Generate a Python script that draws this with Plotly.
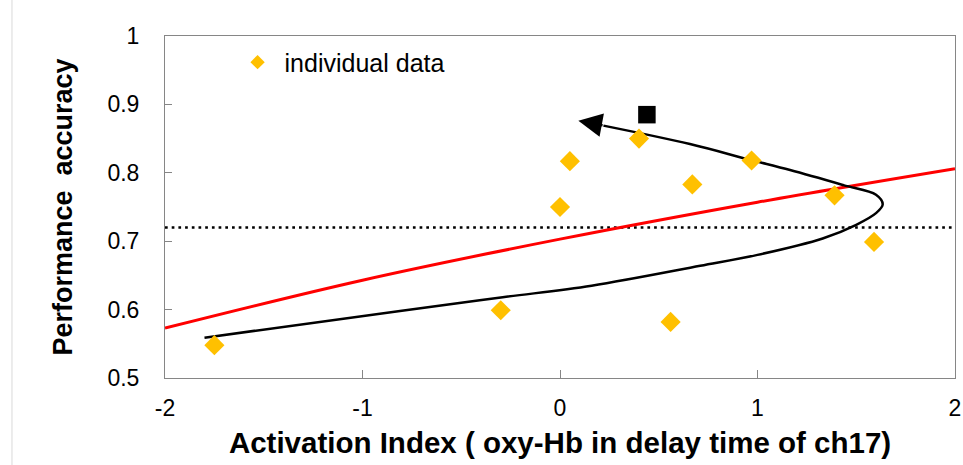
import plotly.graph_objects as go

# Individual subjects: activation index vs. performance accuracy
activation = [-1.75, -0.30, 0.00, 0.05, 0.40, 0.56, 0.67, 0.97, 1.39, 1.59]
accuracy = [0.548, 0.599, 0.750, 0.817, 0.850, 0.582, 0.783, 0.818, 0.767, 0.699]

# Fitted trend (red curve)
fit_x = [-2, -1, 0, 1, 2]
fit_y = [0.573, 0.643, 0.703, 0.757, 0.806]

# Chance / reference level (dotted)
ref_level = 0.72

# Schematic inverted-U path (black curve) ending in an arrow
path_x = [-1.80, -0.81, -0.29, 0.16, 0.71, 1.00, 1.33, 1.50, 1.60, 1.634,
          1.60, 1.435, 1.165, 0.962, 0.658, 0.22]
path_y = [0.559, 0.598, 0.618, 0.635, 0.664, 0.680, 0.704, 0.724, 0.741, 0.754,
          0.768, 0.782, 0.804, 0.819, 0.842, 0.869]
arrow_tip = (0.093, 0.876)
arrow_tail = (0.223, 0.869)

# Black square marker near the arrow
square_x = [0.44]
square_y = [0.885]

x_ticks = [-2, -1, 0, 1, 2]
x_tick_text = ["-2", "-1", "0", "1", "2"]
y_ticks = [0.5, 0.6, 0.7, 0.8, 0.9, 1.0]
y_tick_text = ["0.5", "0.6", "0.7", "0.8", "0.9", "1"]

GOLD = "#FFC000"
FONT = "Liberation Sans, Arial, sans-serif"

fig = go.Figure()

fig.add_trace(go.Scatter(
    x=[-2, 2], y=[ref_level, ref_level], mode="lines",
    line=dict(color="black", width=2.7, dash="2.7px,4px"),
    showlegend=False, hoverinfo="skip"))

fig.add_trace(go.Scatter(
    x=fit_x, y=fit_y, mode="lines",
    line=dict(color="#FF0000", width=3, shape="spline"),
    showlegend=False, hoverinfo="skip"))

fig.add_trace(go.Scatter(
    x=path_x, y=path_y, mode="lines",
    line=dict(color="black", width=2.5, shape="spline", smoothing=1.0),
    showlegend=False, hoverinfo="skip"))

fig.add_trace(go.Scatter(
    x=activation, y=accuracy, mode="markers",
    marker=dict(symbol="diamond", size=15.5, color=GOLD),
    showlegend=False))

# Legend entry with a smaller key symbol
fig.add_trace(go.Scatter(
    x=[None], y=[None], mode="markers", name="individual data",
    marker=dict(symbol="diamond", size=11, color=GOLD),
    showlegend=True))

fig.add_trace(go.Scatter(
    x=square_x, y=square_y, mode="markers",
    marker=dict(symbol="square", size=17.5, color="black"),
    showlegend=False))

fig.add_annotation(
    x=arrow_tip[0], y=arrow_tip[1], ax=arrow_tail[0], ay=arrow_tail[1],
    xref="x", yref="y", axref="x", ayref="y", text="",
    showarrow=True, arrowhead=2, arrowsize=1.9, arrowwidth=2.5,
    arrowcolor="black", standoff=0)

axis_common = dict(
    showgrid=False, zeroline=False, showline=True, linecolor="#868686",
    linewidth=1, mirror=True, ticks="inside", tickcolor="#868686",
    tickfont=dict(family=FONT, size=23, color="black"), automargin=False,
)

fig.update_xaxes(
    range=[-2, 2], tickvals=x_ticks, ticktext=x_tick_text, ticklen=8,
    ticklabelstandoff=9,
    title=dict(text="<b>Activation Index ( oxy-Hb in delay time of ch17)</b>",
               font=dict(family=FONT, size=29.5, color="black"), standoff=12),
    **axis_common)
fig.update_yaxes(
    range=[0.5, 1.0], tickvals=y_ticks, ticktext=y_tick_text, ticklen=7,
    ticklabelstandoff=20,
    title=dict(text="<b>Performance  accuracy</b>",
               font=dict(family=FONT, size=27, color="black"), standoff=26),
    **axis_common)

fig.add_shape(type="line", xref="paper", yref="paper",
              x0=-0.1937, x1=-0.1937, y0=-0.3, y1=1.2,
              line=dict(color="#d9d9d9", width=1))

fig.update_layout(
    width=963, height=465,
    margin=dict(l=165, r=8, t=36, b=87),
    paper_bgcolor="white", plot_bgcolor="white",
    legend=dict(x=0.083, y=0.99, xanchor="left", yanchor="top",
                font=dict(family=FONT, size=25, color="black"),
                bgcolor="rgba(0,0,0,0)", itemwidth=44),
    font=dict(family=FONT),
)

fig.write_html("out.html")
